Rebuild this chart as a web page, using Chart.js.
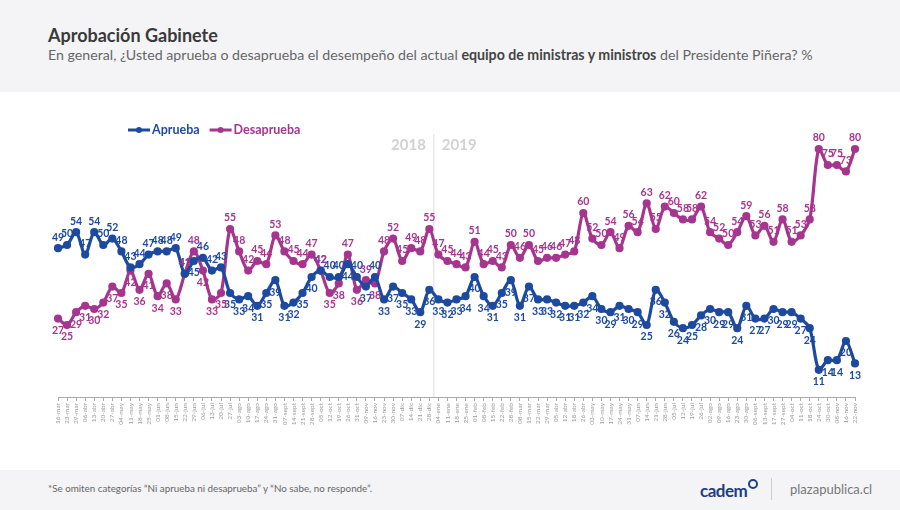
<!DOCTYPE html>
<html lang="es">
<head>
<meta charset="utf-8">
<script src="https://cdn.jsdelivr.net/npm/chart.js@4.4.1/dist/chart.umd.min.js"></script>
<style>
  html, body { margin: 0; padding: 0; }
  body { width: 900px; height: 510px; position: relative; overflow: hidden; background: #f4f4f6; font-family: Lato, "Open Sans", sans-serif; }
  #cabecera h1 { position: absolute; left: 48px; top: 24px; margin: 0; font-size: 18px; font-weight: 700; color: #3a3a3a; }
  #cabecera p { position: absolute; left: 48px; top: 46px; margin: 0; font-size: 14.2px; color: #666; }
  #cabecera b { color: #444; }
  #cuerpo { position: absolute; left: 0; top: 92px; width: 900px; height: 378px; background: #fff; }
  #nota { position: absolute; left: 48px; top: 482px; font-size: 9.8px; color: #666; }
  #cadem { position: absolute; left: 700px; top: 479px; font-size: 17px; font-weight: 700; color: #1c3f86; letter-spacing: -0.5px; }
  #cadem span { display: inline-block; width: 6px; height: 6px; border: 2px solid #1c3f86; border-radius: 50%; vertical-align: 8px; margin-left: 1px; }
  #sep { position: absolute; left: 771px; top: 478px; width: 1px; height: 22px; background: #ccc; }
  #plaza { position: absolute; left: 790px; top: 481px; font-size: 13px; color: #777; }
</style>
</head>
<body>
<div id="cabecera">
  <h1>Aprobación Gabinete</h1>
  <p>En general, ¿Usted aprueba o desaprueba el desempeño del actual <b>equipo de ministras y ministros</b> del Presidente Piñera? %</p>
</div>
<div id="cuerpo"><canvas id="grafico"></canvas></div>
<div id="nota">*Se omiten categorías “Ni aprueba ni desaprueba” y “No sabe, no responde”.</div>
<div id="cadem">cadem<span></span></div>
<div id="sep"></div>
<div id="plaza">plazapublica.cl</div>

<script>
const fechas = [
  "16-mar","23-mar","29-mar","06-abr","13-abr","20-abr","27-abr","04-may","11-may","18-may",
  "25-may","01-jun","08-jun","15-jun","22-jun","29-jun","06-jul","13-jul","20-jul","27-jul",
  "03-ago","10-ago","17-ago","24-ago","31-ago","07-sept","14-sept","21-sept","28-sept","05-oct",
  "12-oct","19-oct","26-oct","31-oct","09-nov","16-nov","23-nov","30-nov","07-dic","14-dic",
  "21-dic","28-dic","04-ene","11-ene","18-ene","25-ene","01-feb","08-feb","15-feb","22-feb",
  "28-feb","08-mar","15-mar","22-mar","29-mar","05-abr","12-abr","18-abr","26-abr","03-may",
  "10-may","17-may","24-may","31-may","07-jun","14-jun","21-jun","28-jun","05-jul","12-jul",
  "19-jul","26-jul","02-ago","09-ago","16-ago","23-ago","30-ago","06-sept","13-sept","17-sept",
  "27-sept","04-oct","11-oct","18-oct","24-oct","30-oct","08-nov","16-nov","22-nov"
];

const aprueba = [
  49,50,54,47,54,50,52,48,43,44,
  47,48,48,49,41,45,46,42,43,35,
  33,34,31,35,39,31,32,35,40,42,
  40,40,44,40,37,40,33,37,35,33,
  29,36,33,32,33,34,40,34,31,35,
  39,31,37,33,33,32,31,31,32,34,
  30,29,31,30,29,25,36,32,26,24,
  25,28,30,29,29,24,31,27,27,30,
  29,29,27,24,11,14,14,20,13
];

const desaprueba = [
  27,25,29,31,30,32,37,35,42,36,
  41,34,38,33,41,48,42,33,35,55,
  48,42,45,44,53,48,45,44,47,42,
  35,38,47,36,39,38,48,52,45,49,
  48,55,47,45,44,43,51,44,45,43,
  50,46,50,45,46,46,47,48,60,52,
  50,54,49,56,54,63,55,62,60,58,
  58,62,54,52,50,54,59,53,56,51,
  58,51,53,58,80,75,75,73,80
];

const azul = '#1d4a9e';
const morado = '#a6358f';

// etiquetas de valor sobre/bajo cada punto
const etiquetas = {
  id: 'etiquetas',
  afterDatasetsDraw(chart) {
    const ctx = chart.ctx;
    ctx.save();
    ctx.font = 'bold 10.5px Lato';
    ctx.textAlign = 'center';
    ctx.textBaseline = 'middle';
    chart.data.datasets.forEach((ds, d) => {
      const otro = chart.data.datasets[1 - d].data;
      chart.getDatasetMeta(d).data.forEach((p, i) => {
        const arriba = ds.data[i] >= otro[i];
        ctx.fillStyle = ds.borderColor;
        ctx.fillText(ds.data[i], p.x, p.y + (arriba ? -11 : 12));
      });
    });
    ctx.restore();
  }
};

// separador 2018 / 2019
const anios = {
  id: 'anios',
  beforeDatasetsDraw(chart) {
    const ctx = chart.ctx;
    const x = chart.scales.x;
    const xm = (x.getPixelForValue(41) + x.getPixelForValue(42)) / 2;
    ctx.save();
    ctx.strokeStyle = '#dcdcdc';
    ctx.lineWidth = 1;
    ctx.beginPath();
    ctx.moveTo(xm, 42);
    ctx.lineTo(xm, chart.chartArea.bottom);
    ctx.stroke();
    ctx.font = 'bold 15px Lato';
    ctx.fillStyle = '#d2d2d2';
    ctx.textBaseline = 'middle';
    ctx.textAlign = 'right';
    ctx.fillText('2018', xm - 8, 53);
    ctx.textAlign = 'left';
    ctx.fillText('2019', xm + 8, 53);
    ctx.restore();
  }
};

// leyenda: linea con punto + texto
const leyenda = {
  id: 'leyenda',
  afterDraw(chart) {
    const ctx = chart.ctx;
    const y = 38;
    let x = 128;
    ctx.save();
    ctx.font = 'bold 12.5px Lato';
    ctx.textBaseline = 'middle';
    chart.data.datasets.forEach(ds => {
      ctx.strokeStyle = ds.borderColor;
      ctx.fillStyle = ds.borderColor;
      ctx.lineWidth = 3;
      ctx.beginPath();
      ctx.moveTo(x, y);
      ctx.lineTo(x + 22, y);
      ctx.stroke();
      ctx.beginPath();
      ctx.arc(x + 11, y, 3, 0, Math.PI * 2);
      ctx.fill();
      ctx.fillText(ds.label, x + 24, y);
      x += 24 + ctx.measureText(ds.label).width + 10;
    });
    ctx.restore();
  }
};

new Chart(document.getElementById('grafico'), {
  type: 'line',
  data: {
    labels: fechas,
    datasets: [
      {
        label: 'Aprueba',
        data: aprueba,
        borderColor: azul,
        backgroundColor: azul,
        borderWidth: 3.2,
        pointRadius: 2.5,
        tension: 0.3,
        fill: false
      },
      {
        label: 'Desaprueba',
        data: desaprueba,
        borderColor: morado,
        backgroundColor: morado,
        borderWidth: 3.2,
        pointRadius: 2.5,
        tension: 0.3,
        fill: false
      }
    ]
  },
  options: {
    responsive: true,
    maintainAspectRatio: false,
    animation: false,
    layout: { padding: { left: 58, right: 45, top: 9, bottom: 13 } },
    plugins: {
      legend: { display: false },
      tooltip: { enabled: false }
    },
    scales: {
      x: {
        offset: false,
        grid: { display: true, drawOnChartArea: false, drawTicks: true, tickLength: 4, color: '#aaa' },
        border: { display: true, color: '#aaa' },
        ticks: {
          autoSkip: false,
          maxRotation: 90,
          minRotation: 90,
          padding: 2,
          color: '#999',
          font: { size: 6.5, family: 'Lato' }
        },
        afterFit(scale) { scale.height = 60; }
      },
      y: { display: false, min: 2.5, max: 95 }
    }
  },
  plugins: [anios, etiquetas, leyenda]
});
</script>
</body>
</html>
